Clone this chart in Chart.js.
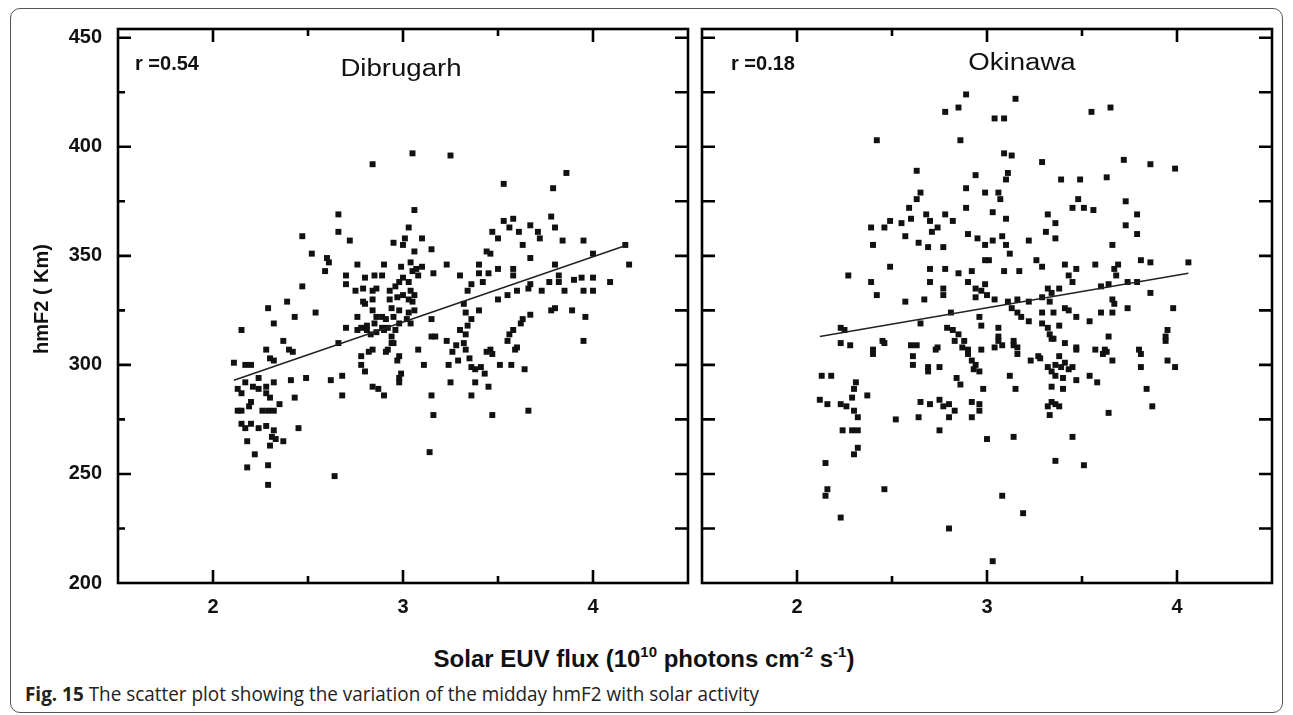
<!DOCTYPE html>
<html>
<head>
<meta charset="utf-8">
<script src="https://cdn.jsdelivr.net/npm/chart.js@4.4.0/dist/chart.umd.min.js"></script>
<style>
  body { margin: 0; width: 1293px; height: 715px; background: #fff; position: relative; overflow: hidden;
         font-family: 'Liberation Sans', Arial, sans-serif; color: #111; }
  .frame { position: absolute; left: 10px; top: 8px; width: 1271px; height: 703px; border: 1.5px solid #555; border-radius: 10px; }
  #wl { position: absolute; left: 0; top: 0; width: 700px; height: 640px; }
  #wr { position: absolute; left: 690px; top: 0; width: 603px; height: 640px; }
  .t { position: absolute; white-space: nowrap; line-height: 1; }
  .r { font-weight: bold; font-size: 20px; top: 53px; }
  .name { font-size: 23px; transform: translateX(-50%) scaleX(1.2); }
  #ytitle { left: 41px; top: 299px; font-weight: bold; font-size: 20px; transform: translate(-50%, -50%) rotate(-90deg); }
  #xtitle { left: 644px; top: 647px; font-weight: bold; font-size: 24px; transform: translateX(-50%); }
  #xtitle sup { font-size: 15px; vertical-align: 0; position: relative; top: -10px; }
  #cap { left: 25px; top: 684px; font-family: 'Open Sans', sans-serif; font-size: 20px; color: #222; transform-origin: 0 0; }
</style>
</head>
<body>
<div class="frame"></div>
<div id="wl"><canvas id="left"></canvas></div>
<div id="wr"><canvas id="right"></canvas></div>
<div class="t r" style="left:135px">r =0.54</div>
<div class="t name" style="left:401px; top:57px">Dibrugarh</div>
<div class="t r" style="left:731px">r =0.18</div>
<div class="t name" style="left:1022px; top:51px">Okinawa</div>
<div class="t" id="ytitle">hmF2 ( Km)</div>
<div class="t" id="xtitle">Solar EUV flux (10<sup>10</sup> photons cm<sup>-2</sup> s<sup>-1</sup>)</div>
<div class="t" id="cap"><b>Fig. 15</b> The scatter plot showing the variation of the midday hmF2 with solar activity</div>
<script>
// Dibrugarh: EUV flux vs hmF2
const dibX = [2.84,3.05,3.25,3.53,3.86,3.79,3.06,2.66,2.66,2.47,2.72,3.03,3.01,2.95,3.00,3.10,3.15,3.06,2.52,2.60,
  2.61,2.59,2.76,2.90,2.99,3.04,3.10,3.16,3.23,3.40,3.47,3.50,3.53,3.58,3.56,3.61,3.67,3.71,3.72,3.78,
  3.80,3.84,3.95,3.63,3.67,3.44,3.46,4.00,4.19,4.17,3.80,3.82,3.58,3.58,3.50,3.30,3.40,3.34,3.36,3.42,
  3.45,3.55,3.50,3.60,3.66,3.67,3.73,3.77,3.82,3.85,3.90,3.94,4.00,3.95,4.00,4.09,3.78,3.80,3.89,3.96,
  3.67,3.63,3.62,3.58,3.56,3.95,2.70,2.70,2.75,2.80,2.85,2.89,2.79,2.84,2.86,2.93,2.96,2.98,3.00,3.03,
  3.05,3.07,3.08,3.04,3.06,3.03,3.05,3.00,2.97,2.79,2.80,2.84,2.93,2.94,2.98,3.03,3.06,2.84,2.86,2.89,
  2.91,2.95,2.98,3.02,3.04,2.76,2.78,2.81,2.85,2.89,2.92,2.96,3.15,3.15,3.17,2.70,2.76,2.81,2.83,2.86,
  2.90,2.94,2.95,2.54,2.43,2.32,2.29,2.39,2.47,2.15,2.37,2.66,3.23,3.28,3.30,3.33,3.34,3.36,3.40,3.32,
  3.33,3.08,2.84,2.92,2.98,2.78,2.28,2.40,3.46,3.60,2.42,2.30,2.32,2.11,2.17,2.20,2.24,2.13,2.15,2.17,
  2.21,2.24,2.28,2.32,2.28,2.30,2.35,2.20,2.19,2.15,2.13,2.26,2.29,2.32,2.41,2.49,2.62,2.43,2.45,2.15,
  2.17,2.20,2.24,2.28,2.32,2.31,2.33,2.37,2.18,2.30,2.22,2.18,2.29,2.29,2.64,3.14,2.68,2.68,2.80,2.78,
  2.84,2.87,2.90,2.82,2.91,2.94,2.97,2.99,2.98,2.98,3.11,3.15,3.16,3.26,3.24,3.25,3.29,3.32,3.33,3.35,
  3.36,3.38,3.41,3.43,3.44,3.47,3.38,3.45,3.36,3.47,3.51,3.57,3.59,3.64,3.55,3.66];
const dibY = [392,397,396,383,388,381,371,369,361,359,357,363,358,356,355,358,353,352,351,349,
  347,343,346,346,345,347,345,342,346,346,361,358,366,367,363,361,364,361,358,368,
  363,357,357,355,349,352,351,351,346,355,346,341,344,341,344,341,342,334,337,338,
  342,332,330,334,335,337,334,338,338,334,339,340,340,334,334,338,325,326,325,322,
  323,321,319,316,314,311,341,337,334,340,341,341,335,334,335,334,336,338,340,338,
  343,344,341,334,332,330,329,332,331,329,328,330,330,326,325,324,325,325,322,322,
  321,322,319,321,319,322,317,318,319,317,317,316,321,313,313,317,316,316,314,315,
  316,313,310,324,322,319,326,329,336,316,311,310,311,309,316,314,318,321,325,328,
  324,307,307,307,304,304,307,307,307,308,306,303,302,301,300,300,294,289,287,292,
  290,289,290,292,287,285,282,283,281,279,279,279,279,279,293,294,293,285,271,273,
  271,273,271,272,270,267,266,265,265,263,259,253,254,245,249,260,286,295,297,300,
  290,289,286,306,306,310,302,296,294,292,300,286,277,306,300,292,302,310,307,303,
  299,298,299,296,306,305,292,290,286,277,300,300,307,298,311,279];
const dibFitX = [2.11, 4.18];
const dibFitY = [293, 355];

// Okinawa: EUV flux vs hmF2
const okiX = [2.89,3.15,2.85,2.78,3.04,3.09,3.55,3.65,2.42,2.86,3.09,3.13,3.29,3.72,3.86,3.99,2.63,2.94,3.11,3.10,
  3.39,3.49,3.63,2.89,2.99,3.06,3.07,2.65,2.63,3.73,3.48,3.45,3.51,3.56,3.79,3.32,3.36,3.73,3.79,3.31,
  3.36,3.22,3.66,2.89,3.03,3.10,2.59,2.49,2.55,2.60,2.39,2.46,2.68,2.70,2.74,2.78,2.82,2.71,2.57,2.64,
  2.69,2.77,2.40,2.90,2.95,2.99,3.03,3.08,3.10,3.12,3.01,2.99,2.49,2.70,2.78,2.85,2.92,3.09,3.17,3.26,
  3.29,3.41,3.47,3.57,3.69,3.81,3.86,4.06,2.27,2.39,2.42,2.70,2.77,2.90,2.94,2.97,2.99,3.32,3.34,3.38,
  3.43,3.45,3.60,3.64,3.68,3.67,3.74,3.79,3.86,2.57,2.67,2.77,2.94,3.00,3.04,3.11,3.13,3.16,3.22,3.29,
  3.33,3.41,3.66,3.67,3.66,3.74,3.98,3.60,2.81,2.96,3.18,3.16,3.29,3.35,3.43,3.47,3.22,3.29,3.54,2.23,
  2.25,2.65,2.79,2.82,2.97,3.06,3.32,3.38,3.64,3.95,3.94,2.23,2.28,2.40,2.45,2.60,2.63,2.74,2.85,2.88,
  2.90,2.97,3.06,3.08,3.14,3.16,3.33,3.35,3.41,3.47,3.57,3.62,3.80,3.27,3.38,2.40,2.46,2.61,2.61,2.69,
  2.69,2.73,2.75,2.83,2.87,2.90,2.92,2.94,2.96,2.93,3.04,3.06,3.14,3.16,3.12,3.15,2.98,2.84,2.86,3.23,
  3.28,3.32,3.34,3.36,3.39,3.41,3.43,3.45,3.47,3.36,3.40,3.34,3.40,3.34,3.47,3.54,3.58,3.61,3.63,3.66,
  3.81,3.81,3.94,3.95,3.99,3.84,3.87,3.64,2.13,2.18,2.31,2.30,2.37,2.12,2.16,2.23,2.26,2.30,2.32,2.29,
  2.52,2.64,2.65,2.70,2.75,2.77,2.80,2.83,2.80,2.92,2.92,2.96,2.96,2.24,2.29,2.32,2.75,2.32,2.30,3.00,
  3.14,3.45,3.32,3.34,3.36,3.38,3.33,3.36,3.51,2.15,2.16,2.15,2.46,3.08,3.19,2.23,2.80,3.03];
const okiY = [424,422,418,416,413,413,416,418,403,403,397,396,393,394,392,390,389,387,388,385,
  385,385,386,381,379,379,376,379,376,375,376,372,372,371,369,369,365,364,360,361,
  358,357,355,372,370,367,372,366,365,367,363,363,369,366,363,369,366,361,359,356,
  354,354,355,360,358,355,357,359,355,351,348,348,345,344,344,342,343,343,343,348,
  345,346,344,346,346,348,347,347,341,338,332,338,335,338,335,334,337,335,333,335,
  341,338,336,337,341,344,338,338,333,329,330,332,331,332,330,329,326,330,329,331,
  329,326,330,328,324,326,326,324,324,322,322,324,324,324,325,322,320,319,320,317,
  316,319,317,316,318,317,317,318,313,316,313,310,309,307,311,309,309,308,314,311,
  307,307,313,309,311,308,314,312,310,308,307,307,307,304,304,305,310,304,300,299,
  297,307,299,311,308,305,302,300,297,298,308,311,309,305,295,289,289,294,291,302,
  303,299,297,300,299,301,298,299,293,295,294,290,289,312,307,295,292,305,306,302,
  305,299,311,302,299,289,281,278,295,295,292,289,286,284,282,282,281,279,276,285,
  275,276,283,282,284,281,282,279,276,276,283,282,279,270,270,270,270,262,259,266,
  267,267,281,283,282,281,277,256,254,255,243,240,243,240,232,230,225,210];
const okiFitX = [2.12, 4.06];
const okiFitY = [313, 342];

// tick positions (labels only on the whole ones / multiples of 50)
const xTickValues = [1.5, 2, 2.5, 3, 3.5, 4, 4.5];
const yTickValues = [200, 225, 250, 275, 300, 325, 350, 375, 400, 425, 450];

const tickFont = { family: "'Liberation Sans', Arial, sans-serif", size: 20, weight: 'bold' };

// frame + inward tick marks on all four sides
const frameTicks = {
  id: 'frameTicks',
  afterDatasetsDraw(chart, args, opts) {
    const { ctx, chartArea: a, scales: { x, y } } = chart;
    ctx.save();
    ctx.strokeStyle = '#000';
    ctx.lineWidth = 2.6;
    ctx.strokeRect(a.left, a.top, a.right - a.left, a.bottom - a.top);
    ctx.beginPath();
    x.ticks.forEach(t => {
      const v = t.value;
      if (v <= x.min || v >= x.max) return;
      const px = x.getPixelForValue(v);
      const major = Number.isInteger(v);
      const b = major ? opts.bottom[0] : opts.bottom[1];
      const tp = major ? opts.top[0] : opts.top[1];
      ctx.moveTo(px, a.bottom); ctx.lineTo(px, a.bottom - b);
      ctx.moveTo(px, a.top); ctx.lineTo(px, a.top + tp);
    });
    y.ticks.forEach(t => {
      const v = t.value;
      if (v <= y.min || v >= y.max) return;
      const py = y.getPixelForValue(v);
      const major = v % 50 === 0;
      const l = major ? opts.left[0] : opts.left[1];
      const r = major ? opts.right[0] : opts.right[1];
      ctx.moveTo(a.left, py); ctx.lineTo(a.left + l, py);
      ctx.moveTo(a.right, py); ctx.lineTo(a.right - r, py);
    });
    ctx.stroke();
    ctx.restore();
  }
};

function panel(id, xs, ys, fitX, fitY, showY, pad, ticksOpt) {
  const pts = xs.map((v, i) => ({ x: v, y: ys[i] }));
  const fit = fitX.map((v, i) => ({ x: v, y: fitY[i] }));
  const yScale = {
    type: 'linear', min: 200, max: 454, display: showY,
    grid: { display: false, drawTicks: false }, border: { display: false },
    afterBuildTicks: s => { s.ticks = yTickValues.map(v => ({ value: v })); },
    ticks: { padding: 16, color: '#111', font: tickFont,
             callback: v => (v % 50 === 0 ? v : '') }
  };
  if (showY) yScale.afterFit = s => { s.width = 118; };
  return new Chart(document.getElementById(id), {
    type: 'scatter',
    data: {
      datasets: [
        { data: fit, showLine: true, borderColor: '#222', borderWidth: 1.6, pointRadius: 0 },
        { data: pts, pointStyle: 'rect', pointRadius: 4.2, backgroundColor: '#111', borderWidth: 0 }
      ]
    },
    options: {
      responsive: true,
      maintainAspectRatio: false,
      animation: false,
      layout: { padding: pad },
      plugins: { legend: { display: false }, tooltip: { enabled: false }, frameTicks: ticksOpt },
      scales: {
        x: {
          type: 'linear', min: 1.5, max: 4.5,
          grid: { display: false, drawTicks: false }, border: { display: false },
          afterBuildTicks: s => { s.ticks = xTickValues.map(v => ({ value: v })); },
          ticks: { padding: 12, color: '#111', font: tickFont, autoSkip: false, maxRotation: 0,
                   callback: v => (Number.isInteger(v) ? v : '') },
          afterFit: s => { s.height = 57; }
        },
        y: yScale
      }
    },
    plugins: [frameTicks]
  });
}

panel('left', dibX, dibY, dibFitX, dibFitY, true,
  { top: 29, right: 10, left: 0, bottom: 0 },
  { left: [13, 7], right: [13, 13], top: [13, 7], bottom: [13, 7] });
panel('right', okiX, okiY, okiFitX, okiFitY, false,
  { top: 29, right: 21, left: 10, bottom: 0 },
  { left: [13, 13], right: [13, 13], top: [13, 7], bottom: [13, 7] });

// squeeze caption to the reference line length
const cap = document.getElementById('cap');
cap.style.transform = 'scaleX(' + (734 / cap.getBoundingClientRect().width) + ')';
</script>
</body>
</html>
